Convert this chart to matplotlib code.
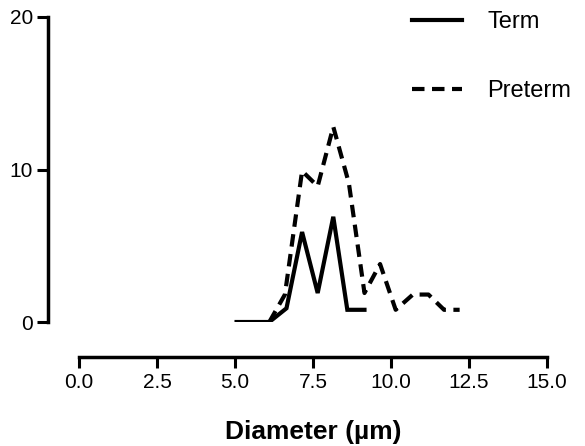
import matplotlib
matplotlib.use("Agg")
import matplotlib.pyplot as plt

plt.rcParams['font.family'] = ['Liberation Sans', 'DejaVu Sans']

term_x = [5.05, 5.6, 6.1, 6.65, 7.15, 7.65, 8.15, 8.6, 9.15]
term_y = [0, 0, 0, 0.9, 5.9, 1.9, 6.9, 0.8, 0.8]

preterm_x = [6.1, 6.6, 7.15, 7.65, 8.15, 8.65, 9.15, 9.65, 10.15, 10.7, 11.2, 11.7, 12.2]
preterm_y = [0, 1.8, 9.9, 8.9, 12.8, 9.1, 1.9, 3.8, 0.8, 1.8, 1.8, 0.8, 0.8]

x_ticks = [0.0, 2.5, 5.0, 7.5, 10.0, 12.5, 15.0]
x_tick_labels = ["0.0", "2.5", "5.0", "7.5", "10.0", "12.5", "15.0"]
y_ticks = [0, 10, 20]

fig = plt.figure(figsize=(5.85, 4.46), dpi=100)
ax = fig.add_axes([79/585, 124/446, 468/585, 305/446])

ax.plot(term_x, term_y, color='black', lw=3, solid_joinstyle='miter', label='Term')
ax.plot(preterm_x, preterm_y, color='black', lw=3, dashes=(3, 1.8), label='Preterm')

ax.set_xlim(0, 15)
ax.set_ylim(0, 20)
ax.set_xticks(x_ticks)
ax.set_xticklabels(x_tick_labels)
ax.set_yticks(y_ticks)

for s in ['top', 'right']:
    ax.spines[s].set_visible(False)
ax.spines['left'].set_position(('outward', 22))
ax.spines['bottom'].set_position(('outward', 25))
for s in ['left', 'bottom']:
    ax.spines[s].set_linewidth(2.5)
ax.tick_params(axis='both', direction='out', length=8, width=2.2, labelsize=15, colors='black')
ax.tick_params(axis='x', pad=4)
ax.tick_params(axis='y', pad=3)

ax.set_xlabel('Diameter (µm)', fontsize=19, fontweight='bold', labelpad=20)

leg = ax.legend(loc='upper left', bbox_to_anchor=(412/585, 1 - 11/446),
                bbox_transform=fig.transFigure, frameon=False, fontsize=17,
                borderpad=0, borderaxespad=0, labelspacing=2.0,
                handlelength=2.1, handletextpad=1.1)

fig.savefig('out.png', dpi=100)
